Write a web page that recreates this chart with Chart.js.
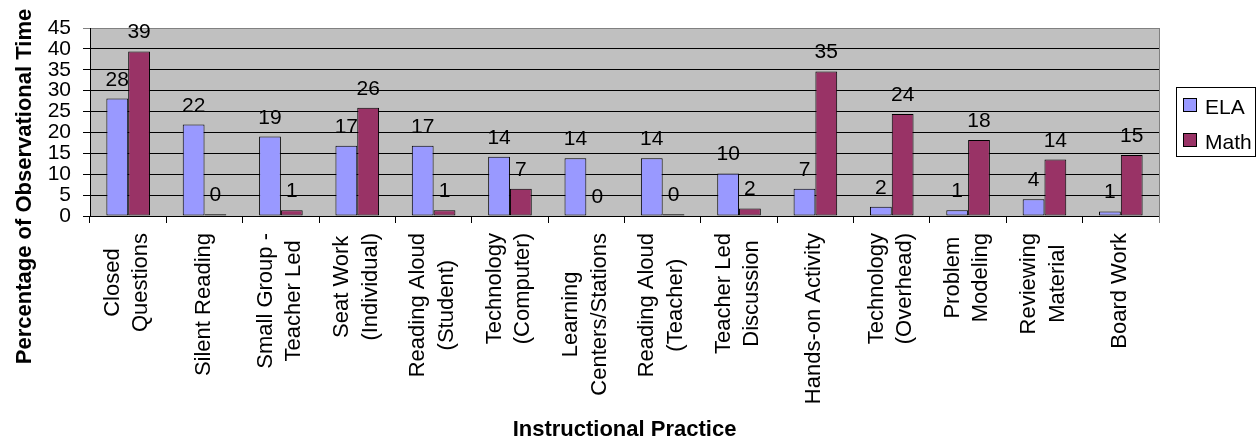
<!DOCTYPE html>
<html>
<head>
<meta charset="utf-8">
<script src="https://cdn.jsdelivr.net/npm/chart.js@4/dist/chart.umd.min.js"></script>
<style>
html,body{margin:0;padding:0;background:#fff;}
canvas{display:block;}
</style>
</head>
<body>
<canvas id="c" width="1257" height="440"></canvas>
<script>
const categories = [
  ['Closed', 'Questions'],
  ['Silent Reading'],
  ['Small Group -', 'Teacher Led'],
  ['Seat Work', '(Individual)'],
  ['Reading Aloud', '(Student)'],
  ['Technology', '(Computer)'],
  ['Learning', 'Centers/Stations'],
  ['Reading Aloud', '(Teacher)'],
  ['Teacher Led', 'Discussion'],
  ['Hands-on Activity'],
  ['Technology', '(Overhead)'],
  ['Problem', 'Modeling'],
  ['Reviewing', 'Material'],
  ['Board Work']
];
const elaValues  = [28.1, 21.9, 19.0, 16.8, 16.8, 14.2, 13.8, 13.8, 10.2, 6.5, 2.2, 1.4, 4.0, 1.1];
const mathValues = [39.4, 0.4, 1.4, 25.9, 1.4, 6.5, 0, 0.4, 1.8, 34.6, 24.4, 18.2, 13.5, 14.6];
const seriesNames = ['ELA', 'Math'];
const yTicks = [0, 5, 10, 15, 20, 25, 30, 35, 40, 45];
const yTitle = 'Percentage of Observational Time';
const xTitle = 'Instructional Practice';

const FONT = '"Liberation Sans", Arial, sans-serif';
const colors = ['#9999FF', '#993366'];

const customDraw = {
  id: 'customDraw',
  beforeDraw(chart) {
    const ctx = chart.ctx, a = chart.chartArea;
    ctx.save();
    ctx.fillStyle = '#ffffff';
    ctx.fillRect(0, 0, chart.width, chart.height);
    ctx.fillStyle = '#C0C0C0';
    ctx.fillRect(a.left, a.top, a.right - a.left, a.bottom - a.top);
    ctx.restore();
  },
  afterDraw(chart) {
    const ctx = chart.ctx, a = chart.chartArea;
    ctx.save();
    // right border
    ctx.strokeStyle = '#808080';
    ctx.lineWidth = 1;
    ctx.beginPath();
    ctx.moveTo(Math.round(a.right) + 0.5, a.top);
    ctx.lineTo(Math.round(a.right) + 0.5, a.bottom + 7);
    ctx.stroke();

    // data labels
    ctx.fillStyle = '#000';
    ctx.font = '21px ' + FONT;
    ctx.textAlign = 'center';
    ctx.textBaseline = 'alphabetic';
    chart.data.datasets.forEach((ds, di) => {
      const meta = chart.getDatasetMeta(di);
      meta.data.forEach((el, i) => {
        ctx.fillText(String(Math.round(ds.data[i])), el.x, el.y - 13);
      });
    });

    // x category labels (rotated, centered lines)
    const xs = chart.scales.x;
    ctx.font = '22px ' + FONT;
    const lh = 28.5;
    categories.forEach((lines, i) => {
      const cx = xs.getPixelForValue(i);
      const blockW = Math.max(...lines.map(l => ctx.measureText(l).width));
      const n = lines.length;
      lines.forEach((line, j) => {
        ctx.save();
        ctx.translate(cx + 5 + (j - (n - 1) / 2) * lh, 233 + blockW / 2);
        ctx.rotate(-Math.PI / 2);
        ctx.textAlign = 'center';
        ctx.fillText(line, 0, 0);
        ctx.restore();
      });
    });

    // axis titles
    ctx.font = 'bold 22px ' + FONT;
    ctx.textAlign = 'center';
    ctx.fillText(xTitle, (a.left + a.right) / 2, 436);
    ctx.save();
    ctx.translate(30.5, 186.5);
    ctx.rotate(-Math.PI / 2);
    ctx.fillText(yTitle, 0, 0);
    ctx.restore();

    // legend
    ctx.fillStyle = '#fff';
    ctx.fillRect(1176, 87, 80, 70);
    ctx.strokeStyle = '#000';
    ctx.strokeRect(1176.5, 87.5, 79, 69);
    ctx.font = '21px ' + FONT;
    ctx.textAlign = 'left';
    chart.data.datasets.forEach((ds, di) => {
      const y = 98 + di * 35;
      ctx.fillStyle = ds.backgroundColor;
      ctx.fillRect(1183, y, 13, 13);
      ctx.strokeStyle = '#000';
      ctx.strokeRect(1183.5, y + 0.5, 13, 13);
      ctx.fillStyle = '#000';
      ctx.fillText(ds.label, 1205, y + 15.5);
    });
    ctx.restore();
  }
};

new Chart(document.getElementById('c'), {
  type: 'bar',
  data: {
    labels: categories.map(c => c.join(' ')),
    datasets: [
      { label: seriesNames[0], data: elaValues, backgroundColor: colors[0], borderColor: '#000', borderWidth: 1, borderSkipped: false },
      { label: seriesNames[1], data: mathValues, backgroundColor: colors[1], borderColor: '#000', borderWidth: 1, borderSkipped: false }
    ]
  },
  options: {
    responsive: false,
    devicePixelRatio: 1,
    animation: false,
    categoryPercentage: 0.571,
    barPercentage: 1.0,
    layout: { padding: { left: 0, right: 98, top: 28, bottom: 0 } },
    plugins: { legend: { display: false }, tooltip: { enabled: false } },
    scales: {
      x: {
        offset: true,
        grid: { offset: true, drawOnChartArea: false, drawTicks: true, tickLength: 7, color: '#000' },
        border: { color: '#000', width: 1 },
        ticks: { display: false },
        afterFit(s) { s.height = 224; }
      },
      y: {
        min: 0, max: 45,
        afterBuildTicks(s) { s.ticks = yTicks.map(v => ({ value: v })); },
        ticks: { color: '#000', font: { family: FONT, size: 21 }, padding: 12, autoSkip: false },
        grid: {
          color: c => (c.tick && c.tick.value === 45) ? '#808080' : '#000',
          tickLength: 7, drawTicks: true
        },
        border: { color: '#000', width: 1 },
        afterFit(s) { s.width = 90; }
      }
    }
  },
  plugins: [customDraw]
});
</script>
</body>
</html>
